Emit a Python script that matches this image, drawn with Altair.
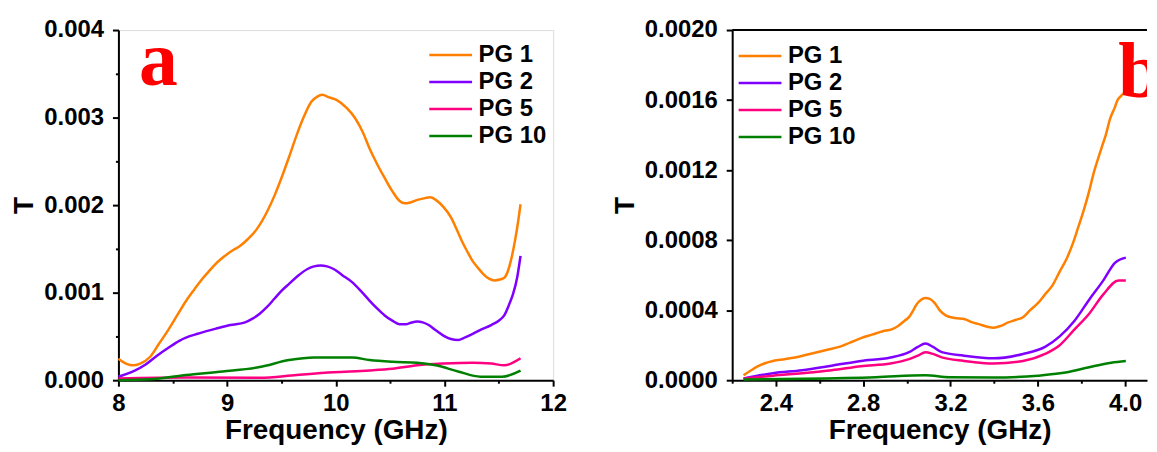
import altair as alt
import pandas as pd

SERIES = ["PG 1", "PG 2", "PG 5", "PG 10"]
COLORS = ["#FF8000", "#8000FF", "#FF0080", "#008000"]
FONT = "Liberation Sans"

# ---------------- Panel a (8-12 GHz) ----------------
a_pg1_f = [8.00, 8.07, 8.135, 8.20, 8.29, 8.37, 8.456, 8.54, 8.625, 8.70, 8.76, 8.83, 8.895, 8.95,
           9.00, 9.06, 9.115, 9.19, 9.27, 9.37, 9.44, 9.50, 9.57, 9.64, 9.71, 9.775, 9.83, 9.875,
           9.94, 10.01, 10.10, 10.18, 10.25, 10.31, 10.38, 10.45, 10.52, 10.585, 10.635, 10.685,
           10.75, 10.82, 10.87, 10.92, 10.99, 11.06, 11.11, 11.16, 11.21, 11.26, 11.31, 11.36,
           11.41, 11.46, 11.51, 11.55, 11.585, 11.61, 11.65, 11.68, 11.70]
a_pg1_t = [0.000246, 0.00019, 0.00017, 0.00019, 0.000265, 0.00041, 0.00057, 0.00074, 0.00091,
           0.00104, 0.00114, 0.00124, 0.00133, 0.00139, 0.00144, 0.00149, 0.00153, 0.00161,
           0.00172, 0.00193, 0.00212, 0.00231, 0.00255, 0.0028, 0.00302, 0.00318, 0.00324,
           0.00326, 0.00323, 0.0032, 0.00311, 0.00299, 0.00283, 0.00265, 0.00247, 0.00231,
           0.00216, 0.00205, 0.00202, 0.00203, 0.00206, 0.00208, 0.00209, 0.00206, 0.00198,
           0.00186, 0.00173, 0.00159, 0.00147, 0.00136, 0.00128, 0.00121, 0.00116, 0.00114,
           0.00115, 0.00117, 0.00125, 0.00136, 0.0016, 0.00183, 0.00201]

a_pg2_f = [8.00, 8.07, 8.15, 8.25, 8.355, 8.46, 8.56, 8.65, 8.73, 8.81, 8.90, 9.03, 9.165, 9.23,
           9.30, 9.37, 9.435, 9.50, 9.57, 9.65, 9.74, 9.80, 9.86, 9.92, 9.98, 10.06, 10.15, 10.23,
           10.31, 10.38, 10.45, 10.52, 10.585, 10.65, 10.70, 10.75, 10.80, 10.855, 10.92, 10.99,
           11.06, 11.125, 11.19, 11.26, 11.34, 11.43, 11.50, 11.55, 11.60, 11.63, 11.67, 11.70]
a_pg2_t = [0.00004, 0.00007, 0.00011, 0.00018, 0.00028, 0.00037, 0.00045, 0.0005, 0.00053,
           0.00056, 0.00059, 0.00063, 0.00066, 0.0007, 0.00076, 0.00084, 0.00093, 0.00102,
           0.0011, 0.00119, 0.00127, 0.0013, 0.00131, 0.0013, 0.00127, 0.0012, 0.00112, 0.00102,
           0.00091, 0.00082, 0.00074, 0.00068, 0.00064, 0.00064, 0.00066, 0.00067, 0.00066,
           0.00063, 0.00057, 0.00051, 0.00047, 0.00046, 0.00049, 0.00053, 0.00058, 0.00063,
           0.00068, 0.00074, 0.00088, 0.00098, 0.00118, 0.00142]

a_pg5_f = [8.00, 8.625, 9.30, 9.64, 9.98, 10.31, 10.52, 10.75, 10.99, 11.26, 11.43, 11.55, 11.70]
a_pg5_t = [0.00002, 0.00003, 0.000027, 0.00006, 0.00009, 0.00011, 0.00013, 0.00017, 0.00019,
           0.0002, 0.00019, 0.00017, 0.00025]

a_pg10_f = [8.00, 8.29, 8.625, 8.96, 9.30, 9.57, 9.80, 10.15, 10.31, 10.52, 10.75, 10.92, 11.125,
            11.33, 11.53, 11.70]
a_pg10_t = [0.0, 0.00001, 0.00006, 0.0001, 0.00015, 0.00023, 0.00026, 0.00026, 0.00023, 0.00021,
            0.0002, 0.00017, 0.0001, 0.00004, 0.00004, 0.00011]

# ---------------- Panel b (2.2-4.1 GHz shown) ----------------
b_pg1_f = [2.252, 2.285, 2.319, 2.35, 2.387, 2.44, 2.488, 2.54, 2.589, 2.64, 2.69, 2.74, 2.79,
           2.84, 2.89, 2.93, 2.96, 2.99, 3.01, 3.03, 3.043, 3.065, 3.085, 3.105, 3.128, 3.15,
           3.178, 3.22, 3.262, 3.30, 3.33, 3.37, 3.397, 3.43, 3.464, 3.50, 3.532, 3.565, 3.60,
           3.633, 3.666, 3.70, 3.734, 3.76, 3.784, 3.81, 3.835, 3.855, 3.877, 3.895, 3.911, 3.93,
           3.953, 3.965, 3.978, 4.003]
b_pg1_t = [0.000028, 0.000055, 0.00008, 0.000097, 0.00011, 0.00012, 0.00013, 0.000145, 0.00016,
           0.000175, 0.00019, 0.000215, 0.00024, 0.00026, 0.00028, 0.00029, 0.00031, 0.00034,
           0.00036, 0.0004, 0.00043, 0.00046, 0.00047, 0.000465, 0.00044, 0.0004, 0.00037,
           0.000355, 0.00035, 0.00033, 0.00032, 0.000305, 0.0003, 0.00031, 0.00033, 0.000345,
           0.00036, 0.0004, 0.00044, 0.00049, 0.00054, 0.00062, 0.0007, 0.00078, 0.00087,
           0.00097, 0.00108, 0.00118, 0.00127, 0.00134, 0.0014, 0.00149, 0.00156, 0.0016,
           0.00162, 0.00165]

b_pg2_f = [2.252, 2.387, 2.52, 2.656, 2.79, 2.925, 3.01, 3.05, 3.085, 3.12, 3.16, 3.262, 3.397,
           3.532, 3.633, 3.70, 3.768, 3.835, 3.90, 3.953, 4.003]
b_pg2_t = [0.00001, 0.00004, 0.000057, 0.000083, 0.00011, 0.00013, 0.00016, 0.00019, 0.00021,
           0.00019, 0.00016, 0.00014, 0.000125, 0.00015, 0.00019, 0.00025, 0.00034, 0.00046,
           0.00057, 0.00067, 0.0007]

b_pg5_f = [2.252, 2.387, 2.52, 2.656, 2.79, 2.925, 3.01, 3.05, 3.085, 3.12, 3.16, 3.262, 3.397,
           3.532, 3.633, 3.70, 3.768, 3.835, 3.90, 3.97, 4.003]
b_pg5_t = [0.000008, 0.000026, 0.00004, 0.000057, 0.00008, 0.000095, 0.00012, 0.00014, 0.00016,
           0.00015, 0.00013, 0.00011, 0.000095, 0.00011, 0.00015, 0.0002, 0.00029, 0.00038,
           0.00049, 0.00057, 0.00057]

b_pg10_f = [2.252, 2.52, 2.858, 3.085, 3.195, 3.397, 3.60, 3.734, 3.835, 3.936, 4.003]
b_pg10_t = [0.000004, 0.000008, 0.000017, 0.000028, 0.000017, 0.000015, 0.000026, 0.000045,
            0.000074, 0.0001, 0.00011]

# tick values
a_x_ticks = [8 + 0.5 * i for i in range(9)]
a_y_ticks = [round(0.0005 * i, 5) for i in range(9)]
b_x_ticks = [round(2.2 + 0.2 * i, 2) for i in range(10)]
b_y_ticks = [round(0.0002 * i, 5) for i in range(11)]

panel_a_label = pd.DataFrame({"f": [8.19], "T": [0.00337], "label": ["a"]})
panel_b_label = pd.DataFrame({"f": [3.968], "T": [0.001616], "label": ["b"]})
top_edge = pd.DataFrame({"edge": ["top"]})


def long_df(parts):
    rows = []
    for name, xs, ys in parts:
        for x, y in zip(xs, ys):
            rows.append({"f": x, "T": y, "series": name})
    return pd.DataFrame(rows)


def make_axis(values, test, fmt, title, label_pad, title_pad, title_size):
    return alt.Axis(
        values=values,
        labelExpr=f"({test}) ? format(datum.value, '{fmt}') : ''",
        tickSize={"condition": {"test": test, "value": 6}, "value": 3},
        tickWidth=2, tickColor="black",
        domainColor="black", domainWidth=2,
        labelFont=FONT, labelFontSize=24, labelFontWeight="bold", labelColor="black",
        labelPadding=label_pad, labelFlush=False, labelOverlap=False,
        grid=False,
        title=title, titleFont=FONT, titleFontSize=title_size, titleFontWeight="bold",
        titleColor="black", titlePadding=title_pad,
    )


def make_legend(lx, ly):
    return alt.Legend(
        title=None, orient="none", legendX=lx, legendY=ly,
        symbolType="stroke", symbolSize=1849, symbolStrokeWidth=2.5, symbolOffset=0,
        labelFont=FONT, labelFontSize=24, labelFontWeight="bold", labelColor="black",
        labelOffset=5, clipHeight=24, rowPadding=3.2, padding=0,
    )


def panel(df, label_df, xdom, ydom, xticks, yticks, xtest, ytest, xfmt, yfmt, legend, w, h,
          extra=None):
    lines = alt.Chart(df).mark_line(strokeWidth=2.5, interpolate="monotone").encode(
        x=alt.X("f:Q", scale=alt.Scale(domain=xdom, nice=False, zero=False),
                axis=make_axis(xticks, xtest, xfmt, "Frequency (GHz)", 5, 2, 28)),
        y=alt.Y("T:Q", scale=alt.Scale(domain=ydom, nice=False, zero=False),
                axis=make_axis(yticks, ytest, yfmt, "T", 9, 5, 28)),
        color=alt.Color("series:N", sort=SERIES,
                        scale=alt.Scale(domain=SERIES, range=COLORS), legend=legend),
    )
    txt = alt.Chart(label_df).mark_text(
        font="Liberation Serif", fontWeight="bold", fontSize=78, color="#FF0000",
        align="left", baseline="alphabetic", clip=True,
    ).encode(x="f:Q", y="T:Q", text="label:N")
    layers = [lines, txt]
    if extra is not None:
        layers.append(extra)
    return alt.layer(*layers).properties(width=w, height=h)


df_a = long_df([("PG 1", a_pg1_f, a_pg1_t), ("PG 2", a_pg2_f, a_pg2_t),
                ("PG 5", a_pg5_f, a_pg5_t), ("PG 10", a_pg10_f, a_pg10_t)])
df_b = long_df([("PG 1", b_pg1_f, b_pg1_t), ("PG 2", b_pg2_f, b_pg2_t),
                ("PG 5", b_pg5_f, b_pg5_t), ("PG 10", b_pg10_f, b_pg10_t)])

top_rule = alt.Chart(top_edge).mark_rule(color="black", strokeWidth=2).encode(y=alt.value(0))

left = panel(df_a, panel_a_label, [8, 12], [0, 0.004], a_x_ticks, a_y_ticks,
             "abs(datum.value - round(datum.value)) < 0.001",
             "abs(datum.value*1000 - round(datum.value*1000)) < 0.001",
             "d", ".3f", make_legend(311, 13), 437, 352)
right = panel(df_b, panel_b_label, [2.2, 4.1], [0, 0.002], b_x_ticks, b_y_ticks,
              "abs(datum.value*2.5 - round(datum.value*2.5)) < 0.001",
              "abs(datum.value*2500 - round(datum.value*2500)) < 0.001",
              ".1f", ".4f", make_legend(5, 14), 417, 352, extra=top_rule
              ).properties(view=alt.ViewBackground(stroke="transparent"))

chart = alt.hconcat(left, right, spacing=44, padding={"left": 2, "top": 8, "right": 0, "bottom": 0}
                    ).resolve_scale(color="independent").resolve_legend(color="independent"
                    ).configure_view(stroke="black", strokeWidth=2
                    ).configure(background="white")

chart.save("out.html", embed_options={"renderer": "svg", "actions": False})
